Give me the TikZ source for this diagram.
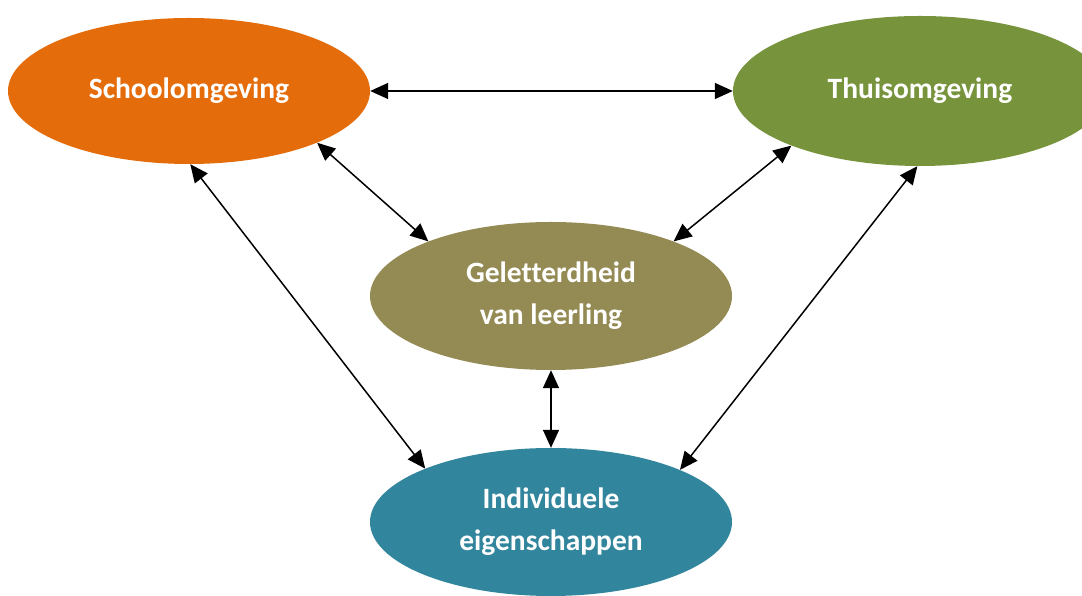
\documentclass[tikz,border=0pt]{standalone}
\usepackage{fontspec}
\setmainfont[Ligatures=NoCommon]{Carlito}
\usetikzlibrary{arrows.meta}
\usetikzlibrary{shapes.geometric}

\definecolor{schoolorange}{HTML}{E46C0A}
\definecolor{thuisgreen}{HTML}{77933C}
\definecolor{geletolive}{HTML}{948A54}
\definecolor{indivteal}{HTML}{31859C}

\tikzset{
  blob/.style={ellipse, inner sep=0pt, minimum width=362pt, minimum height=146pt,
    text=white, align=center, font=\fontsize{29.5}{42}\selectfont\bfseries},
  link/.style={{Triangle[length=18pt,width=16pt]}-{Triangle[length=18pt,width=16pt]}, line width=1.5pt}
}

\begin{document}
\begin{tikzpicture}[x=1pt,y=1pt]
    \useasboundingbox (0,0) rectangle (1082,596);
    \node[blob, fill=schoolorange] (school) at (189,505) {Schoolomgeving};
    \node[blob, fill=thuisgreen, minimum width=374pt, minimum height=150pt] (thuis) at (920,505) {Thuisomgeving};
    \node[blob, fill=geletolive, minimum height=148pt] (gelet) at (551,300) {Geletterdheid\\van leerling};
    \node[blob, fill=indivteal, minimum height=148pt] (indiv) at (551,74) {Individuele\\eigenschappen};

    \draw[link] (school.east) -- (thuis.west);
    \draw[link] (school.-22) -- (gelet.156);
    \draw[link] (thuis.203) -- (gelet.24);
    \draw[link] (school.-89) -- (indiv.157);
    \draw[link] (thuis.-92) -- (indiv.22);
    \draw[link] (gelet.south) -- (indiv.north);
  \end{tikzpicture}
\end{document}
